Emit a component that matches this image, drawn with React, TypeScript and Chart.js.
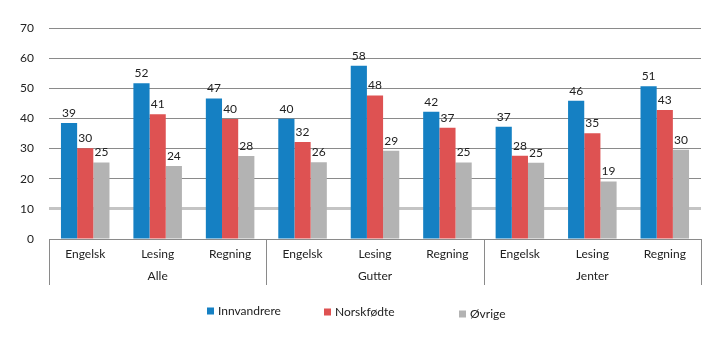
import React, { useEffect, useRef } from "react";
import { Chart, registerables } from "chart.js";

Chart.register(...registerables);

const subjects = ["Engelsk", "Lesing", "Regning", "Engelsk", "Lesing", "Regning", "Engelsk", "Lesing", "Regning"];
const groups = ["Alle", "Gutter", "Jenter"];
const seriesNames = ["Innvandrere", "Norskfødte", "Øvrige"];
const innvandrere = [38.5, 51.7, 46.6, 39.9, 57.5, 42.2, 37.2, 45.9, 50.7];
const norskfodte = [30.1, 41.4, 39.8, 32.2, 47.6, 36.9, 27.6, 35.1, 42.8];
const ovrige = [25.4, 24.2, 27.5, 25.5, 29.3, 25.4, 25.3, 19.1, 29.6];
const yTicks = [0, 10, 20, 30, 40, 50, 60, 70];

const colors = ["#1580c3", "#de5252", "#b3b3b3"];
const FONT = "Lato, 'Open Sans', sans-serif";

export default function App() {
  const ref = useRef<HTMLCanvasElement | null>(null);

  useEffect(() => {
    document.body.style.margin = "0";
    const canvas = ref.current!;

    const labelsPlugin = {
      id: "valueLabels",
      afterDatasetsDraw(chart: any) {
        const ctx = chart.ctx;
        ctx.save();
        ctx.font = `12px ${FONT}`;
        ctx.fillStyle = "#222";
        ctx.textAlign = "center";
        ctx.textBaseline = "bottom";
        chart.data.datasets.forEach((ds: any, di: number) => {
          const meta = chart.getDatasetMeta(di);
          meta.data.forEach((el: any, i: number) => {
            ctx.fillText(String(Math.round(ds.data[i])), el.x, el.y - 4);
          });
        });
        ctx.restore();
      },
    };

    const decorPlugin = {
      id: "decor",
      afterDraw(chart: any) {
        const ctx = chart.ctx;
        const xs = chart.scales.x;
        const area = chart.chartArea;
        ctx.save();
        ctx.strokeStyle = "#8a8a8a";
        ctx.lineWidth = 1;
        const n = subjects.length;
        const step = (xs.right - xs.left) / n;
        for (let g = 0; g <= groups.length; g++) {
          const x = Math.round(xs.left + g * 3 * step) + 0.5;
          ctx.beginPath();
          ctx.moveTo(x, area.bottom);
          ctx.lineTo(x, area.bottom + 46);
          ctx.stroke();
        }
        const items = [
          { x: 207, y: 311 },
          { x: 324, y: 312 },
          { x: 459, y: 314 },
        ];
        ctx.font = `12px ${FONT}`;
        ctx.textBaseline = "middle";
        ctx.textAlign = "left";
        items.forEach((it, i) => {
          ctx.fillStyle = colors[i];
          ctx.fillRect(it.x, it.y - 3.5, 7, 7);
          ctx.fillStyle = "#222";
          ctx.fillText(seriesNames[i], it.x + 11, it.y);
        });
        ctx.restore();
      },
    };

    const chart = new Chart(canvas, {
      type: "bar",
      data: {
        labels: subjects,
        datasets: [
          { label: seriesNames[0], data: innvandrere, backgroundColor: colors[0] },
          { label: seriesNames[1], data: norskfodte, backgroundColor: colors[1] },
          { label: seriesNames[2], data: ovrige, backgroundColor: colors[2] },
        ],
      },
      options: {
        responsive: false,
        animation: false,
        events: [],
        layout: { padding: { left: 0, right: 19, top: 28, bottom: 52 } },
        plugins: {
          legend: { display: false },
          tooltip: { enabled: false },
        },
        datasets: {
          bar: { categoryPercentage: 0.67, barPercentage: 1 },
        },
        scales: {
          x: {
            type: "category",
            position: "bottom",
            grid: { display: false, drawTicks: false },
            border: { display: true, color: "#8a8a8a", width: 1 },
            ticks: {
              color: "#222",
              font: { family: FONT, size: 12 },
              padding: 8,
              maxRotation: 0,
              autoSkip: false,
            },
            afterFit(scale: any) {
              scale.height = 28;
            },
          },
          x2: {
            type: "category",
            position: "bottom",
            labels: groups,
            offset: true,
            grid: { display: false, drawTicks: false },
            border: { display: false },
            ticks: {
              color: "#222",
              font: { family: FONT, size: 12 },
              padding: 2,
              maxRotation: 0,
              autoSkip: false,
            },
            afterFit(scale: any) {
              scale.height = 22;
            },
          },
          y: {
            min: 0,
            max: 70,
            afterBuildTicks(scale: any) {
              scale.ticks = yTicks.map((v) => ({ value: v }));
            },
            afterFit(scale: any) {
              scale.width = 49;
            },
            border: { display: false },
            grid: {
              drawTicks: false,
              color: (c: any) => (c.tick && c.tick.value === 10 ? "#c4c4c4" : "#8a8a8a"),
              lineWidth: (c: any) => (c.tick && c.tick.value === 10 ? 3 : 1),
            },
            ticks: {
              color: "#222",
              font: { family: FONT, size: 12 },
              padding: 15,
            },
          },
        },
      },
      plugins: [labelsPlugin, decorPlugin],
    });

    return () => chart.destroy();
  }, []);

  return (
    <div style={{ width: 720, height: 341, background: "#fff" }}>
      <canvas ref={ref} width={720} height={341} style={{ display: "block" }} />
    </div>
  );
}
